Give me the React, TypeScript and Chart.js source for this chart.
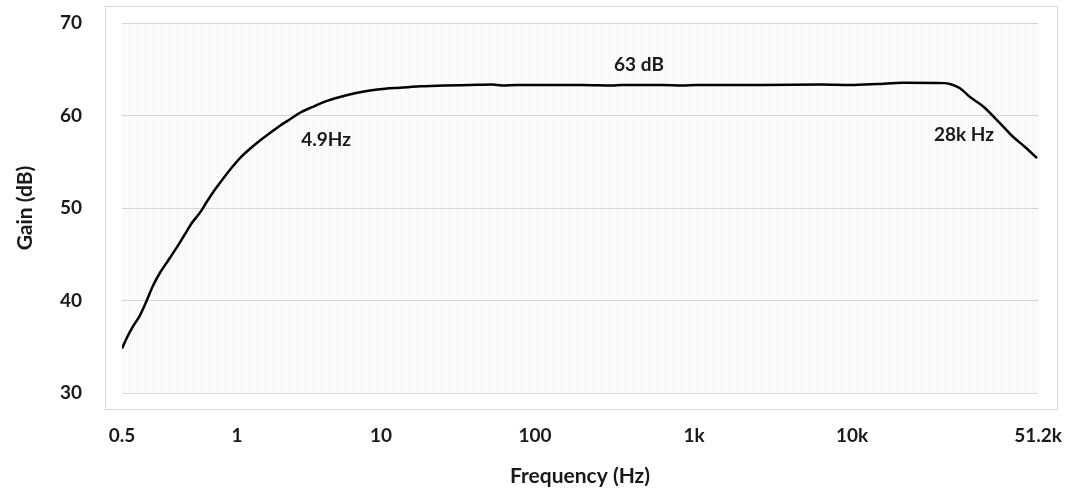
import React, { useEffect, useRef } from "react";
import { Chart, registerables } from "chart.js";

Chart.register(...registerables);

// Frequency axis is a category-style axis (Excel): positions are sample bins 0..916
const binIndex = [
  0, 5, 11, 18, 24, 31, 38, 46, 54, 62, 70, 78, 85, 93, 102, 110, 118, 128, 138, 148,
  158, 168, 178, 190, 203, 218, 233, 248, 263, 278, 298, 323, 348, 370, 380, 395, 420,
  460, 490, 500, 540, 560, 575, 600, 640, 700, 728, 755, 781, 823, 831, 838, 848, 861,
  875, 883, 891, 903, 915,
];
const gainDb = [
  34.8, 36.0, 37.2, 38.4, 39.8, 41.6, 43.0, 44.3, 45.6, 47.0, 48.4, 49.5, 50.7, 52.0,
  53.3, 54.4, 55.4, 56.4, 57.3, 58.1, 58.9, 59.6, 60.3, 60.9, 61.5, 62.0, 62.4, 62.7,
  62.9, 63.0, 63.15, 63.25, 63.3, 63.35, 63.25, 63.3, 63.3, 63.3, 63.25, 63.3, 63.3,
  63.25, 63.3, 63.3, 63.3, 63.35, 63.3, 63.4, 63.55, 63.5, 63.3, 62.95, 62.0, 61.0,
  59.5, 58.6, 57.7, 56.6, 55.4,
];

const xTickBins = [0, 115, 259, 413, 572, 730, 916];
const xTickLabels = ["0.5", "1", "10", "100", "1k", "10k", "51.2k"];
const yTickValues = [30, 40, 50, 60, 70];

const noteTexts = ["4.9Hz", "63 dB", "28k Hz"];
const noteBins = [204, 517, 842];
const noteGains = [57.35, 65.46, 57.9];

const FONT = "Lato, 'Open Sans', sans-serif";
const TEXT = "#1a1a1a";

const framePlugin = {
  id: "frame",
  beforeDraw(chart: any) {
    const { ctx, chartArea } = chart;
    ctx.save();
    ctx.fillStyle = "#ffffff";
    ctx.fillRect(0, 0, chart.width, chart.height);
    ctx.strokeStyle = "#d9d9d9";
    ctx.lineWidth = 1;
    const l = Math.round(chartArea.left - 17) + 0.5;
    const t = Math.round(chartArea.top - 17) + 0.5;
    const r = Math.round(chartArea.right + 19) + 0.5;
    const b = Math.round(chartArea.bottom + 16) + 0.5;
    ctx.strokeRect(l, t, r - l, b - t);
    ctx.restore();
  },
  beforeDatasetsDraw(chart: any) {
    const { ctx, chartArea, scales } = chart;
    const xs = scales.x;
    ctx.save();
    ctx.strokeStyle = "rgba(0,0,0,0.035)";
    ctx.lineWidth = 1;
    ctx.beginPath();
    for (let b = 0; b <= 916; b += 2) {
      const px = Math.round(xs.getPixelForValue(b)) + 0.5;
      ctx.moveTo(px, chartArea.top);
      ctx.lineTo(px, chartArea.bottom);
    }
    ctx.stroke();
    ctx.restore();
  },
  afterDatasetsDraw(chart: any) {
    const { ctx, scales } = chart;
    ctx.save();
    ctx.fillStyle = TEXT;
    ctx.font = `bold 19px ${FONT}`;
    ctx.textAlign = "center";
    ctx.textBaseline = "middle";
    noteTexts.forEach((t, i) => {
      ctx.fillText(
        t,
        scales.x.getPixelForValue(noteBins[i]),
        scales.y.getPixelForValue(noteGains[i])
      );
    });
    ctx.restore();
  },
};

export default function App() {
  const ref = useRef<HTMLCanvasElement>(null);
  useEffect(() => {
    document.body.style.margin = "0";
    const canvas = ref.current!;
    const chart = new Chart(canvas, {
      type: "line",
      data: {
        datasets: [
          {
            data: binIndex.map((b, i) => ({ x: b, y: gainDb[i] })),
            borderColor: "#000000",
            borderWidth: 2.5,
            pointRadius: 0,
            cubicInterpolationMode: "monotone",
            fill: false,
          },
        ],
      },
      options: {
        responsive: false,
        animation: false,
        layout: { padding: { top: 23, right: 27, left: 0, bottom: 0 } },
        plugins: { legend: { display: false }, tooltip: { enabled: false } },
        scales: {
          x: {
            type: "linear",
            min: 0,
            max: 916,
            afterBuildTicks: (s: any) => {
              s.ticks = xTickBins.map((v) => ({ value: v }));
            },
            afterFit: (s: any) => {
              s.height = 99;
            },
            ticks: {
              autoSkip: false,
              maxRotation: 0,
              padding: 0,
              color: TEXT,
              font: { family: FONT, size: 19, weight: "bold" },
              callback: (_v: any, i: number) => xTickLabels[i],
            },
            grid: {
              display: true,
              drawOnChartArea: false,
              drawTicks: true,
              tickLength: 31,
              color: "rgba(0,0,0,0)",
              tickColor: "rgba(0,0,0,0)",
            },
            border: { display: false },
            title: {
              display: true,
              text: "Frequency (Hz)",
              color: TEXT,
              font: { family: FONT, size: 21, weight: "bold" },
              padding: { top: 0, bottom: 3 },
            },
          },
          y: {
            min: 30,
            max: 70,
            afterBuildTicks: (s: any) => {
              s.ticks = yTickValues.map((v) => ({ value: v }));
            },
            afterFit: (s: any) => {
              s.width = 122;
            },
            ticks: {
              padding: 0,
              color: TEXT,
              font: { family: FONT, size: 19, weight: "bold" },
            },
            grid: {
              color: "#d9d9d9",
              drawTicks: true,
              tickLength: 40,
              tickColor: "rgba(0,0,0,0)",
            },
            border: { display: false },
            title: {
              display: true,
              text: "Gain (dB)",
              color: TEXT,
              font: { family: FONT, size: 21, weight: "bold" },
              padding: { top: 13, bottom: 0 },
            },
          },
        },
      },
      plugins: [framePlugin],
    } as any);
    return () => chart.destroy();
  }, []);
  return (
    <div style={{ width: 1065, height: 492 }}>
      <canvas ref={ref} width={1065} height={492} style={{ display: "block" }} />
    </div>
  );
}
